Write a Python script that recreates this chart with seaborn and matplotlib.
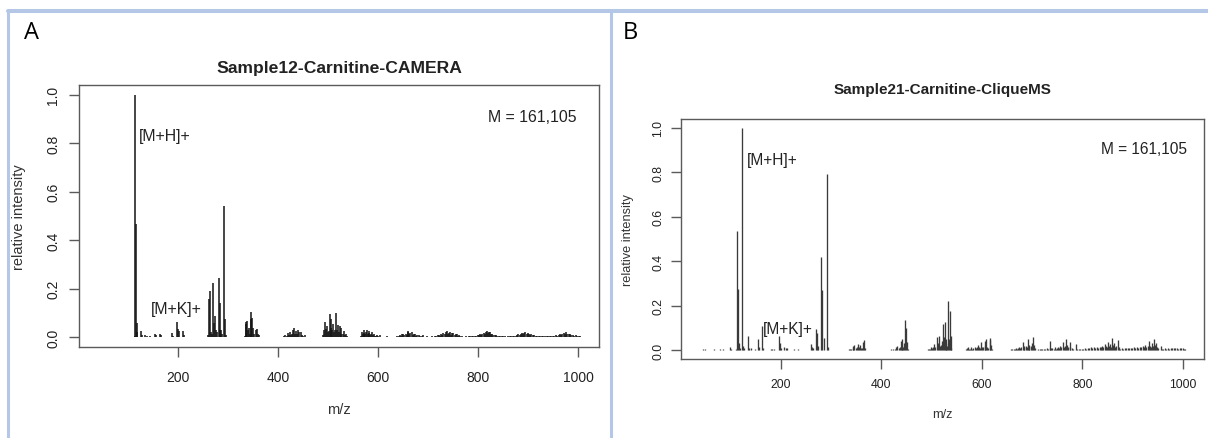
import numpy as np
import pandas as pd
import matplotlib
matplotlib.use("Agg")
import matplotlib.pyplot as plt
from matplotlib.lines import Line2D
import seaborn as sns

# ---------------- data ----------------
title_a = "Sample12-Carnitine-CAMERA"
title_b = "Sample21-Carnitine-CliqueMS"
x_ticks = [200, 400, 600, 800, 1000]
y_ticks = [0.0, 0.2, 0.4, 0.6, 0.8, 1.0]
y_tick_labels = ["0.0", "0.2", "0.4", "0.6", "0.8", "1.0"]

mz_a = [41, 104, 113.5, 114.5, 115.5, 117, 118, 125, 128, 134, 138, 144, 154, 156, 164, 166,
        187, 189, 197.5, 199, 201, 209.5, 211, 248.5, 259,
        261.5, 263.5, 265, 267, 270.5, 272, 274, 276, 278, 281, 283, 284, 286, 288, 292, 294, 296, 309,
        333, 335, 336.5, 338.5, 340, 341.5, 343, 345, 346.5, 348.5, 350.5, 352, 355, 357, 359, 361,
        412, 414, 418, 420.5, 422, 424, 426, 428, 430.5, 432, 434, 435.5, 438, 440.5, 442, 445, 447, 450, 454,
        490, 491.5, 493.5, 495, 497.3, 499, 501, 503.5, 505, 506.6, 508, 509.6, 511, 513, 515, 517, 519, 521,
        523.5, 525, 526.6, 529, 532, 534, 536, 538,
        566, 567.5, 569, 571, 572.5, 574, 576, 577.5, 579, 581, 582.5, 584, 586, 587.5, 589, 591, 593, 596,
        597.5, 600, 604, 608, 612, 617,
        636, 638, 641, 643, 646, 648, 650.5, 652, 655, 657, 659, 660.5, 662, 664, 667, 669, 671, 674, 676,
        678, 681, 684, 687, 690.5, 694, 697,
        704, 707, 710, 713, 716, 719, 721, 724, 726, 728.5, 730.5, 733, 735, 737.5, 739, 741, 744, 746, 748,
        750.5, 753, 755, 757.5, 760, 762, 764, 767,
        772, 775, 778, 781, 784, 787, 790, 793, 796, 799, 801, 804, 806, 808.5, 811, 813, 815, 817, 819, 821,
        823.5, 826, 828, 830.5, 833, 835.5, 838, 841, 844, 847, 850, 853,
        857, 860, 863, 866, 869, 872, 875, 878, 880.5, 883, 885, 887.5, 890, 892, 894.5, 897, 899, 901.5,
        904, 906, 909, 912, 915, 918, 921, 924, 927, 930,
        934, 937, 940, 943, 946, 949, 952, 955, 958, 961, 963.5, 966, 968.5, 971, 973.5, 976, 978.5, 981,
        983.5, 986, 989, 992, 995, 998, 1001, 1004]
int_a = [0.003, 0.003, 0.006, 1.0, 0.465, 0.058, 0.02, 0.026, 0.008, 0.01, 0.004, 0.005, 0.012, 0.008, 0.012, 0.008,
         0.016, 0.006, 0.062, 0.035, 0.028, 0.025, 0.01, 0.003, 0.01,
         0.157, 0.19, 0.02, 0.015, 0.222, 0.06, 0.088, 0.03, 0.02, 0.246, 0.03, 0.14, 0.03, 0.012, 0.543, 0.075, 0.01, 0.003,
         0.005, 0.055, 0.062, 0.068, 0.03, 0.04, 0.015, 0.075, 0.105, 0.078, 0.04, 0.015, 0.03, 0.036, 0.012, 0.008,
         0.004, 0.008, 0.006, 0.018, 0.01, 0.022, 0.01, 0.015, 0.032, 0.038, 0.015, 0.028, 0.012, 0.03, 0.02, 0.022, 0.01, 0.006, 0.008,
         0.008, 0.03, 0.065, 0.035, 0.045, 0.02, 0.025, 0.094, 0.04, 0.075, 0.03, 0.055, 0.02, 0.03, 0.099, 0.03, 0.05, 0.02,
         0.045, 0.015, 0.04, 0.012, 0.025, 0.01, 0.012, 0.005,
         0.006, 0.022, 0.012, 0.018, 0.03, 0.012, 0.02, 0.03, 0.015, 0.018, 0.026, 0.01, 0.012, 0.02, 0.008, 0.014, 0.006, 0.005,
         0.01, 0.004, 0.008, 0.003, 0.003, 0.005,
         0.003, 0.005, 0.004, 0.008, 0.006, 0.012, 0.015, 0.008, 0.014, 0.01, 0.02, 0.025, 0.012, 0.016, 0.02, 0.008, 0.012, 0.015, 0.006,
         0.008, 0.01, 0.004, 0.006, 0.008, 0.003, 0.004,
         0.003, 0.004, 0.003, 0.005, 0.004, 0.008, 0.01, 0.006, 0.012, 0.01, 0.016, 0.012, 0.02, 0.027, 0.012, 0.018, 0.022, 0.01, 0.016,
         0.018, 0.008, 0.012, 0.012, 0.006, 0.008, 0.006, 0.004,
         0.003, 0.004, 0.003, 0.005, 0.004, 0.006, 0.005, 0.007, 0.006, 0.01, 0.008, 0.012, 0.01, 0.015, 0.018, 0.012, 0.02, 0.028, 0.016, 0.022,
         0.02, 0.012, 0.014, 0.01, 0.008, 0.009, 0.006, 0.007, 0.005, 0.006, 0.004, 0.004,
         0.003, 0.004, 0.005, 0.004, 0.006, 0.005, 0.007, 0.008, 0.012, 0.01, 0.015, 0.018, 0.012, 0.016, 0.02, 0.014, 0.017, 0.015,
         0.01, 0.012, 0.008, 0.01, 0.007, 0.006, 0.007, 0.005, 0.005, 0.004,
         0.004, 0.005, 0.004, 0.006, 0.005, 0.007, 0.006, 0.008, 0.007, 0.01, 0.012, 0.01, 0.015, 0.018, 0.014, 0.02, 0.015, 0.012,
         0.014, 0.01, 0.009, 0.007, 0.008, 0.005, 0.006, 0.004]

mz_b = [45, 49, 56, 67, 70, 80, 86, 99, 101, 111,
        113.2, 115.2, 117, 118.5, 123, 125.5, 128, 135, 137, 141.5, 150, 155, 157, 163, 165, 180, 182, 186,
        196.7, 199, 201, 207, 210, 212, 226, 234,
        261, 263, 265, 271, 273, 275, 281, 283, 285.7, 292.8, 294.5,
        335.8, 338, 341, 343.7, 345, 347, 349, 351, 353.7, 355, 357, 359, 362, 364, 365.5, 367.5,
        420, 424, 427, 430, 432, 435, 437, 439, 440.5, 442, 444, 446, 448.3, 450.2, 452, 454,
        493, 495, 497.5, 499.6, 502, 504, 506, 508, 510.8, 512.5, 514.7, 516.5, 519.5, 521, 522.7, 524.5,
        526, 528, 529.4, 531, 533.4, 535, 536, 538, 539.5,
        569, 571, 572.4, 575, 577, 579, 581, 583, 585.7, 588, 590, 592.3, 594, 596, 599, 601, 603, 605.6,
        607, 609, 611, 613, 615.5, 617, 619, 621,
        634, 637, 640, 643, 646, 649, 652, 655, 658, 661, 664, 666, 668.6, 670, 672, 675, 677, 679, 681.8,
        683.5, 685, 688, 690, 691.7, 693.5, 695, 698, 700, 701.6, 703, 706,
        712, 715, 718, 720, 723, 726, 729, 732, 734.8, 736, 738, 740, 743, 745, 747, 749, 752, 754, 756,
        758, 761.3, 763, 765, 768, 770, 772, 774.6, 776, 779, 782,
        788, 790, 793, 796, 799, 802, 805, 808, 811, 814, 817, 820, 823, 826, 829, 832, 834.5, 837, 840,
        842, 845, 847, 849, 851, 853, 855, 857, 859.4, 861, 864, 866, 868, 870.8, 872.5,
        875, 878, 881, 884, 887, 890, 893, 896, 899, 902, 905, 908, 911, 914, 917, 920, 922, 925, 927,
        930, 933.6, 935, 937, 939, 941, 943.5, 945, 947, 949, 951,
        955.5, 958, 961, 964, 967, 970, 973, 976, 979, 982, 985, 988, 991, 994, 997, 1000, 1003, 1005]
int_b = [0.003, 0.003, 0.002, 0.003, 0.002, 0.003, 0.003, 0.012, 0.004, 0.006,
         0.537, 0.275, 0.03, 0.01, 1.0, 0.02, 0.008, 0.062, 0.01, 0.01, 0.005, 0.05, 0.015, 0.11, 0.01, 0.004, 0.006, 0.004,
         0.062, 0.03, 0.01, 0.015, 0.008, 0.01, 0.004, 0.004,
         0.027, 0.012, 0.008, 0.095, 0.075, 0.02, 0.417, 0.27, 0.055, 0.793, 0.012,
         0.005, 0.004, 0.006, 0.02, 0.01, 0.025, 0.01, 0.015, 0.028, 0.012, 0.025, 0.008, 0.01, 0.035, 0.045, 0.01,
         0.003, 0.004, 0.006, 0.012, 0.02, 0.01, 0.015, 0.04, 0.052, 0.02, 0.012, 0.03, 0.135, 0.1, 0.035, 0.006,
         0.003, 0.006, 0.004, 0.012, 0.008, 0.015, 0.027, 0.012, 0.06, 0.03, 0.065, 0.02, 0.025, 0.04, 0.118, 0.06,
         0.128, 0.03, 0.05, 0.02, 0.222, 0.05, 0.177, 0.062, 0.01,
         0.004, 0.008, 0.012, 0.005, 0.006, 0.015, 0.006, 0.008, 0.016, 0.008, 0.012, 0.025, 0.012, 0.01, 0.037, 0.012, 0.015, 0.04,
         0.02, 0.05, 0.012, 0.008, 0.055, 0.045, 0.025, 0.006,
         0.002, 0.002, 0.002, 0.002, 0.002, 0.002, 0.002, 0.002, 0.003, 0.003, 0.005, 0.004, 0.01, 0.006, 0.008, 0.016, 0.01, 0.012, 0.037,
         0.02, 0.012, 0.02, 0.015, 0.052, 0.025, 0.012, 0.018, 0.03, 0.057, 0.025, 0.008,
         0.004, 0.005, 0.004, 0.006, 0.005, 0.006, 0.008, 0.006, 0.043, 0.01, 0.008, 0.01, 0.006, 0.012, 0.007, 0.01, 0.015, 0.008, 0.018,
         0.012, 0.037, 0.015, 0.02, 0.052, 0.025, 0.012, 0.035, 0.015, 0.008, 0.006,
         0.027, 0.004, 0.005, 0.006, 0.005, 0.007, 0.008, 0.007, 0.01, 0.008, 0.012, 0.01, 0.014, 0.009, 0.012, 0.01, 0.016, 0.012, 0.02,
         0.012, 0.026, 0.018, 0.015, 0.036, 0.02, 0.028, 0.015, 0.056, 0.025, 0.03, 0.015, 0.02, 0.046, 0.012,
         0.006, 0.008, 0.007, 0.009, 0.008, 0.01, 0.009, 0.011, 0.01, 0.012, 0.011, 0.013, 0.01, 0.015, 0.012, 0.018, 0.012, 0.025, 0.015,
         0.02, 0.04, 0.02, 0.015, 0.03, 0.02, 0.052, 0.025, 0.03, 0.012, 0.008,
         0.02, 0.006, 0.007, 0.008, 0.007, 0.008, 0.007, 0.009, 0.008, 0.008, 0.009, 0.008, 0.007, 0.009, 0.008, 0.01, 0.006, 0.005]

df_a = pd.DataFrame({"mz": mz_a, "intensity": int_a})
df_b = pd.DataFrame({"mz": mz_b, "intensity": int_b})

# ---------------- style ----------------
sns.set_theme(style="white")
plt.rcParams["font.family"] = ["Liberation Sans", "DejaVu Sans"]

W, H = 1208, 439
fig = plt.figure(figsize=(W / 100, H / 100), dpi=100)
fig.patch.set_facecolor("white")

frame_col = "#5a5a5a"
border_col = "#B4C7E7"


def panel(rect, df, title, color, lw, fs_tick, fs_lab, fs_title, fs_ann,
          title_y, ylab_x, xlab_y, ypad, xpad, ann):
    l, t, r, b = rect
    ax = fig.add_axes([l / W, (H - b) / H, (r - l) / W, (b - t) / H])
    ax.vlines(df["mz"], 0, df["intensity"], color=color, lw=lw)
    ax.set_xlim(2, 1042)
    ax.set_ylim(-0.04, 1.04)
    ax.set_xticks(x_ticks)
    ax.set_xticklabels([str(v) for v in x_ticks])
    ax.set_yticks(y_ticks)
    ax.set_yticklabels(y_tick_labels)
    for s in ax.spines.values():
        s.set_visible(True)
        s.set_color(frame_col)
        s.set_linewidth(1.0)
    ax.tick_params(axis="both", direction="out", length=7, width=1.0,
                   color=frame_col, labelsize=fs_tick, labelcolor="#222222",
                   bottom=True, left=True)
    ax.tick_params(axis="x", pad=xpad)
    ax.tick_params(axis="y", pad=ypad)
    for lab in ax.get_yticklabels():
        lab.set_rotation(90)
        lab.set_va("center")
        lab.set_ha("right")
    ax.set_title(title, fontsize=fs_title, fontweight="bold", color="#222222",
                 y=title_y, va="center", pad=0)
    ax.set_xlabel("m/z", fontsize=fs_lab, color="#333333", va="center")
    ax.set_ylabel("relative intensity", fontsize=fs_lab, color="#333333", va="center")
    ax.xaxis.set_label_coords(0.5, xlab_y)
    ax.yaxis.set_label_coords(ylab_x, 0.5)
    ax.grid(False)
    (mx, my), (hx, hy), (kx, ky) = ann
    ax.text(mx, my, "M = 161,105", ha="right", va="center", fontsize=fs_ann, color="#222222")
    ax.text(hx, hy, "[M+H]+", ha="left", va="center", fontsize=fs_ann, color="#222222")
    ax.text(kx, ky, "[M+K]+", ha="left", va="center", fontsize=fs_ann, color="#222222")
    return ax


axA = panel((79, 86, 599, 348), df_a, title_a, "#141414", 1.1, 10, 10.5, 12.6, 11.4,
            1.0687, -0.1154, -0.2366, 6.5, 9.4,
            ((997, 0.909), (122, 0.83), (146, 0.12)))
axB = panel((681, 120, 1204, 360), df_b, title_b, "#3a3a3a", 0.95, 8.8, 9.2, 11, 11.2,
            1.125, -0.1013, -0.229, 5, 6.5,
            ((1008, 0.905), (132, 0.856), (164, 0.095)))

# panel borders and letters
fig.add_artist(Line2D([8 / W, 1.0], [(H - 12) / H, (H - 12) / H], color=border_col,
                      lw=2.9, transform=fig.transFigure))
fig.add_artist(Line2D([8 / W, 8 / W], [0, (H - 12) / H], color=border_col,
                      lw=2.2, transform=fig.transFigure))
fig.add_artist(Line2D([611 / W, 611 / W], [0, (H - 12) / H], color=border_col,
                      lw=2.2, transform=fig.transFigure))
fig.text(32 / W, (H - 33) / H, "A", fontsize=17, family=["Open Sans", "DejaVu Sans"],
         ha="center", va="center", color="black")
fig.text(630 / W, (H - 33) / H, "B", fontsize=17, family=["Open Sans", "DejaVu Sans"],
         ha="center", va="center", color="black")

fig.savefig("out.png", dpi=100, facecolor="white")
